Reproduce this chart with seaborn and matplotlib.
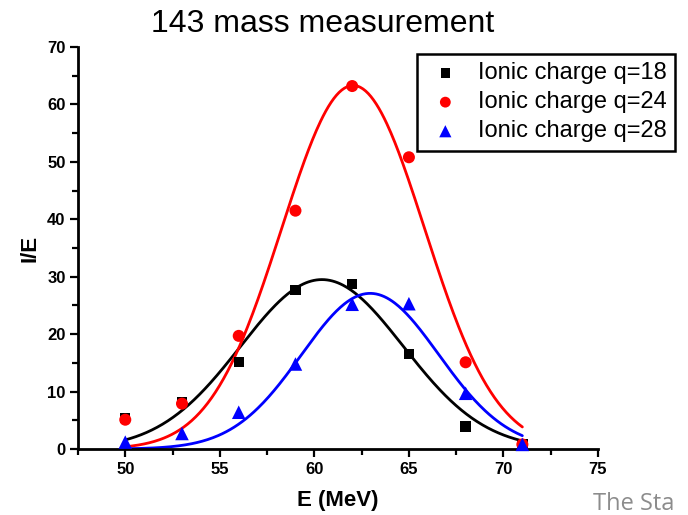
import numpy as np
import pandas as pd
import matplotlib
matplotlib.use("Agg")
import matplotlib.pyplot as plt
from matplotlib.ticker import MultipleLocator
import seaborn as sns

# ---- data ----
energy = [50, 53, 56, 59, 62, 65, 68, 71]
q18 = [5.4, 8.2, 15.2, 27.7, 28.7, 16.5, 3.9, 0.9]
q24 = [5.1, 7.9, 19.7, 41.5, 63.2, 50.8, 15.1, 0.8]
q28 = [1.2, 2.7, 6.4, 14.8, 25.2, 25.3, 9.7, 0.8]
labels = ["Ionic charge q=18", "Ionic charge q=24", "Ionic charge q=28"]

# Gaussian fit parameters (amplitude, centre, sigma)
fit_amp = [29.5, 63.3, 27.1]
fit_center = [60.4, 62.05, 62.95]
fit_sigma = [4.30, 3.78, 3.63]
fit_range = [50, 71]

xticks = [50, 55, 60, 65, 70, 75]
yticks = [0, 10, 20, 30, 40, 50, 60, 70]

colors = ["#000000", "#ff0000", "#0000ff"]
markers = ["s", "o", "^"]
msizes = [55, 75, 95]

sns.set_theme(style="white")
plt.rcParams["font.family"] = ["Liberation Sans", "DejaVu Sans"]
plt.rcParams["text.color"] = "black"
plt.rcParams["axes.labelcolor"] = "black"
plt.rcParams["xtick.color"] = "black"
plt.rcParams["ytick.color"] = "black"

fig = plt.figure(figsize=(6.88, 5.15), dpi=100)
ax = fig.add_axes([78 / 688, 66 / 515, (598 - 78) / 688, (449 - 47) / 515])

series = [q18, q24, q28]
xs = np.linspace(fit_range[0], fit_range[1], 300)
for i, vals in enumerate(series):
    ys = fit_amp[i] * np.exp(-0.5 * ((xs - fit_center[i]) / fit_sigma[i]) ** 2)
    sns.lineplot(x=xs, y=ys, ax=ax, color=colors[i], lw=2.0, legend=False, zorder=2)

for i, vals in enumerate(series):
    df = pd.DataFrame({"E": energy, "IE": vals})
    sns.scatterplot(data=df, x="E", y="IE", ax=ax, color=colors[i], marker=markers[i],
                    s=msizes[i], edgecolor="none", label=labels[i], zorder=3, clip_on=False)

ax.set_xlim(47.5, 75)
ax.set_ylim(0, 70)
ax.set_xticks(xticks)
ax.set_yticks(yticks)
ax.xaxis.set_minor_locator(MultipleLocator(2.5))
ax.yaxis.set_minor_locator(MultipleLocator(5))
for sp in ["top", "right"]:
    ax.spines[sp].set_visible(False)
for sp in ["left", "bottom"]:
    ax.spines[sp].set_color("black")
    ax.spines[sp].set_linewidth(2.0)
ax.tick_params(which="major", direction="out", length=6, width=1.6, color="black",
               labelcolor="black", labelsize=12, left=True, bottom=True, pad=3)
ax.tick_params(which="minor", direction="out", length=4, width=1.6, color="black",
               left=True, bottom=True)
for lab in ax.get_xticklabels() + ax.get_yticklabels():
    lab.set_fontweight("bold")

ax.set_xlabel("E (MeV)", fontsize=16, fontweight="bold", labelpad=10, color="black")
ax.set_ylabel("I/E", fontsize=16, fontweight="bold", labelpad=5, color="black")

fig.text(323 / 688, 1 - 24 / 515, "143 mass measurement", fontsize=23,
         ha="center", va="center", color="black")

leg = ax.legend(loc="upper left", bbox_to_anchor=(417 / 688, 1 - 54 / 515),
                bbox_transform=fig.transFigure, fontsize=17, frameon=True,
                fancybox=False, borderpad=0.35, handlelength=1.7, handletextpad=0.55,
                labelspacing=0.3, borderaxespad=0, markerscale=0.9)
leg.get_frame().set_edgecolor("black")
leg.get_frame().set_linewidth(1.8)
leg.get_frame().set_facecolor("white")
leg.get_frame().set_alpha(1)
for t in leg.get_texts():
    t.set_color("black")

fig.text(593 / 688, 5 / 515, "The Sta", fontsize=17, color="#8c8c8c",
         family=["Open Sans", "DejaVu Sans"], ha="left", va="baseline")

fig.savefig("out.png", dpi=100)
